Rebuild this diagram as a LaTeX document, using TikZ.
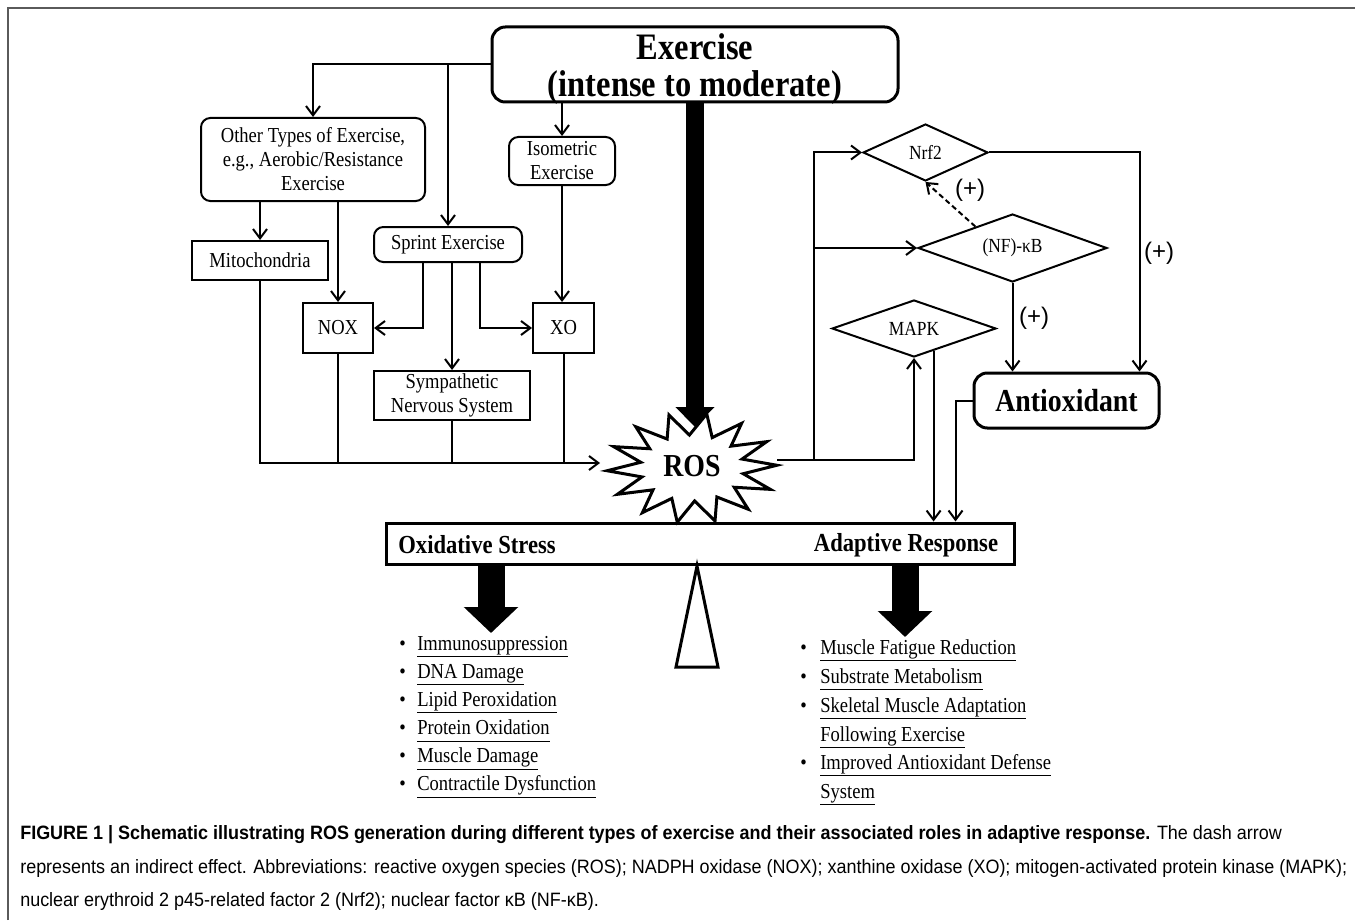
\documentclass[tikz,border=0pt]{standalone}
\usepackage{fontspec}
\setmainfont{Liberation Serif}[FakeStretch=0.87]
\newfontfamily\capfont{Liberation Sans}[FakeStretch=0.93]
\newfontfamily\plusfont{Liberation Sans}
\usetikzlibrary{arrows.meta,shapes.geometric,calc,positioning}
\definecolor{framegray}{RGB}{90,90,90}
\newcommand{\listul}[1]{\underline{#1\vphantom{gy}}}
\tikzset{
  conn/.style={line width=1.5pt},
  arr/.style={conn,-{Straight Barb[length=7pt,width=10.5pt]}},
  roundbox/.style={draw,line width=1.5pt,rounded corners=7pt,align=center,inner sep=2pt,font=\fontsize{16}{18}\selectfont},
  sqbox/.style={draw,line width=1.5pt,align=center,inner sep=2pt,font=\fontsize{16}{18}\selectfont},
  kbox/.style={diamond,draw,line width=1.5pt,aspect=2.5,inner sep=1pt,font=\fontsize{15}{17}\selectfont},
  bigbox/.style={draw,line width=2.25pt,rounded corners=10pt,align=center},
  beamtxt/.style={font=\bfseries\fontsize{19.5}{20}\selectfont},
  plus/.style={font=\plusfont\fontsize{18}{20}\selectfont},
  listtxt/.style={anchor=base west,inner sep=0pt,font=\fontsize{16}{21}\selectfont},
  captxt/.style={anchor=base west,inner sep=0pt,font=\capfont\fontsize{14.5}{17}\selectfont}
}
\begin{document}
\begin{tikzpicture}[x=0.75pt,y=0.75pt,yscale=-1,xscale=1]
\useasboundingbox (0,0) rectangle (1355,920);

%Frame
\draw[framegray,line width=1.5pt] (8,920) -- (8,8) -- (1355,8);

%Shape: Boxes
\node[bigbox,minimum width=304.5pt,minimum height=56.25pt] (exer) at (695,64.5) {};
\node[align=center,font=\bfseries\fontsize{28}{28}\selectfont] (exertxt) at (695,69) {Exercise\\(intense to moderate)};
\node[roundbox,minimum width=168pt,minimum height=62.25pt] (other) at (313,159.5) {Other Types of Exercise,\\e.g., Aerobic/Resistance\\Exercise};
\node[roundbox,minimum width=79.5pt,minimum height=36pt] (iso) at (562,161) {Isometric\\Exercise};
\node[roundbox,minimum width=111pt,minimum height=26.25pt] (sprint) at (448,244.5) {Sprint Exercise};
\node[sqbox,minimum width=102pt,minimum height=29.25pt] (mito) at (260,260.5) {Mitochondria};
\node[sqbox,minimum width=52.5pt,minimum height=37.5pt] (nox) at (338,328) {NOX};
\node[sqbox,minimum width=45.75pt,minimum height=37.5pt] (xo) at (563.5,328) {XO};
\node[sqbox,minimum width=117pt,minimum height=36.75pt] (symp) at (452,395.5) {Sympathetic\\Nervous System};

%Shape: Star
\begin{scope}[shift={(692,468)}]
\draw[line width=2.25pt,fill=white,line join=miter] (100:85 and 55)
  \foreach \k in {1,...,27} { -- ({100+\k*180/14}:{85-33*mod(\k,2)} and {55-22*mod(\k,2)}) } -- cycle;
\end{scope}
\node[font=\bfseries\fontsize{24}{24}\selectfont] (ROS) at (692,466) {ROS};
\coordinate (rosW) at (600,463);
\coordinate (rosE) at (777,460);
\coordinate (rosN) at (695,427);

%Shape: Diamonds
\node[kbox,minimum width=93.75pt,minimum height=42.75pt] (nrf) at (925.5,152.5) {Nrf2};
\node[kbox,minimum width=141.75pt,minimum height=51pt] (nfkb) at (1012.5,248) {(NF)-κB};
\node[kbox,minimum width=123pt,minimum height=42.75pt] (mapk) at (914,328.5) {MAPK};
\node[bigbox,minimum width=138.75pt,minimum height=41.25pt,font=\bfseries\fontsize{24}{24}\selectfont] (anti) at (1066.5,400.5) {Antioxidant};

%Shape: Balance
\node[draw,line width=2.25pt,minimum width=471pt,minimum height=30.75pt] (beam) at (700,543.5) {};
\node[beamtxt] (ostress) at (477,545) {Oxidative Stress};
\node[beamtxt] (adapt) at (906,545) {Adaptive Response};
\draw[line width=2.25pt,line join=miter] (697,566) -- (718,667) -- (676,667) -- cycle;

%Heavy arrows
\coordinate (osTip) at (491,633);
\coordinate (adTip) at (905,637);
\draw[line width=13.5pt,-{Triangle[length=15pt,width=28.5pt]}] (exer.south -| rosN) -- (rosN);
\draw[line width=20.25pt,-{Triangle[length=19.5pt,width=39.75pt]}] (beam.south -| osTip) -- (osTip);
\draw[line width=20.25pt,-{Triangle[length=19.5pt,width=39.75pt]}] (beam.south -| adTip) -- (adTip);

%Straight Lines: exercise types
\draw[arr] (exer.west) -| (other.north);
\draw[arr] (exer.west -| sprint.north) -- (sprint.north);
\draw[arr] (exer.south -| iso.north) -- (iso.north);
\draw[arr] (other.south -| mito.north) -- (mito.north);
\draw[arr] (other.south -| nox.north) -- (nox.north);
\draw[arr] ($(sprint.south)+(-25,0)$) |- (nox.east);
\draw[arr] (sprint.south -| symp.north) -- (symp.north);
\draw[arr] ($(sprint.south)+(32,0)$) |- (xo.west);
\draw[arr] (iso.south) -- (iso.south |- xo.north);

%Straight Lines: sources to ROS
\draw[arr] (mito.south) |- (rosW);
\foreach \src in {nox,symp,xo}
  \draw[conn] (\src.south) -- (\src.south |- rosW);

%Straight Lines: ROS to signalling
\coordinate (split) at (814,460);
\draw[arr] (rosE) -| (mapk.south);
\draw[arr] (split) |- (nrf.west);
\draw[arr] (split |- nfkb.west) -- (nfkb.west);
\draw[arr,dash pattern=on 4pt off 2.5pt] (nfkb.150) -- (nrf.south);
\draw[arr] (nrf.east) -| ($(anti.north east)+(-21,0)$);
\draw[arr] (nfkb.south) -- (nfkb.south |- anti.north);
\coordinate (antiW) at ($(anti.west)+(-17,0)$);
\draw[arr] (mapk.311) -- (mapk.311 |- beam.north);
\draw[arr] (anti.west) -- (antiW) -- (antiW |- beam.north);

% Text Node
\node[plus] (p1) at (970,190) {(+)};
\node[plus] (p2) at (1159,253) {(+)};
\node[plus] (p3) at (1034,318) {(+)};

% Text Node: oxidative stress list
\foreach \txt [count=\i from 0] in {Immunosuppression,DNA Damage,Lipid Peroxidation,Protein Oxidation,Muscle Damage,Contractile Dysfunction} {
  \node[listtxt] (osb\i) at (399,{650+28.1*\i}) {\textbullet};
  \node[listtxt] (os\i) at (417,{650+28.1*\i}) {\listul{\txt}};
}

% Text Node: adaptive response list
\node[listtxt] (arb0) at (800,654) {\textbullet};
\node[listtxt] (ar0) at (820,654) {\listul{Muscle Fatigue Reduction}};
\node[listtxt] (arb1) at (800,683) {\textbullet};
\node[listtxt] (ar1) at (820,683) {\listul{Substrate Metabolism}};
\node[listtxt] (arb2) at (800,712) {\textbullet};
\node[listtxt] (ar2) at (820,712) {\listul{Skeletal Muscle Adaptation}};
\node[listtxt] (ar3) at (820,741) {\listul{Following Exercise}};
\node[listtxt] (arb4) at (800,769) {\textbullet};
\node[listtxt] (ar4) at (820,769) {\listul{Improved Antioxidant Defense}};
\node[listtxt] (ar5) at (820,798) {\listul{System}};

% Text Node: caption
\node[captxt] (cap1) at (20,839) {{\bfseries FIGURE 1 | Schematic illustrating ROS generation during different types of exercise and their associated roles in adaptive response.} The dash arrow};
\node[captxt] (cap2) at (20,873) {represents an indirect effect. Abbreviations: reactive oxygen species (ROS); NADPH oxidase (NOX); xanthine oxidase (XO); mitogen-activated protein kinase (MAPK);};
\node[captxt] (cap3) at (20,906) {nuclear erythroid 2 p45-related factor 2 (Nrf2); nuclear factor κB (NF-κB).};

\end{tikzpicture}
\end{document}
